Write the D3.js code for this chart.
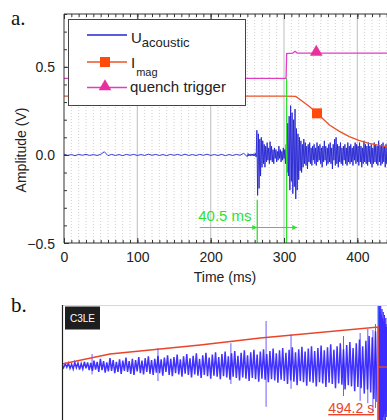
<!DOCTYPE html>
<html>
<head>
<meta charset="utf-8">
<script src="https://cdn.jsdelivr.net/npm/d3@7"></script>
<style>
  body { margin: 0; background: #fff; }
  svg { display: block; }
</style>
</head>
<body>
<svg id="chart" width="387" height="420"></svg>
<script>
// ---------- panel a data ----------
const timeTicks = [0, 100, 200, 300, 400];
const ampTicks = [-0.5, 0.0, 0.5];

// acoustic signal, quiet part (5 ms sampling from 0 ms)
const quietStep = 5;
const quietVals = [
  0.004, -0.003, 0.002, -0.004, 0.003, -0.002, 0.003, -0.003, 0.002, -0.003,
  0.003, 0.018, -0.004, 0.003, -0.003, 0.002, -0.004, 0.003, -0.002, 0.003,
  -0.003, 0.002, -0.003, 0.004, -0.002, 0.003, -0.003, 0.002, -0.004, 0.003,
  -0.002, 0.003, -0.003, 0.004, -0.003, 0.002, -0.003, 0.003, -0.002, 0.004,
  -0.003, 0.002, -0.003, 0.003, -0.004, 0.002, -0.003, 0.003, -0.002, 0.009,
  -0.01
];
// acoustic signal, active part (1 ms sampling from 251 ms)
const burstStart = 251;
const burstStep = 1;
const burstVals = [
  0.008, -0.006, 0.004, -0.005, 0.006, -0.004, 0.005, -0.006, 0.007, -0.005, 0.009, -0.012,
  0.14, -0.23, 0.12, -0.19, 0.09, -0.12, 0.1, -0.07, 0.08, -0.05,
  0.06, -0.07, 0.05, -0.04, 0.07, -0.03, 0.04, -0.05, 0.075, -0.03,
  0.05, -0.04, 0.03, -0.05, 0.04, -0.02, 0.03, -0.04, 0.02, -0.03,
  0.05, -0.02, 0.03, -0.04, 0.02, -0.03, 0.04, -0.02, 0.03, -0.05,
  0.06, -0.1, 0.18, -0.12, 0.22, -0.2, 0.28, -0.15, 0.24, -0.22,
  0.2, -0.18, 0.26, -0.25, 0.15, -0.2, 0.12, -0.14, 0.1, -0.09,
  0.08, -0.1, 0.06, -0.07, 0.09, -0.05, 0.07, -0.06, 0.05, -0.08,
  0.06, -0.04, 0.07, -0.05, 0.04, -0.06, 0.05, -0.03, 0.06, -0.05,
  0.04, -0.06, 0.07, -0.04, 0.05, -0.03, 0.06, -0.05, 0.04, -0.07,
  0.05, -0.04, 0.08, -0.03, 0.05, -0.06, 0.04, -0.05, 0.06, -0.04,
  0.07, -0.05, 0.04, -0.08, 0.06, -0.03, 0.09, -0.06, 0.1, -0.05,
  0.06, -0.07, 0.05, -0.04, 0.07, -0.05, 0.04, -0.06, 0.05, -0.03,
  0.06, -0.05, 0.04, -0.06, 0.07, -0.04, 0.05, -0.05, 0.06, -0.04,
  0.04, -0.06, 0.05, -0.03, 0.07, -0.05, 0.06, -0.04, 0.05, -0.06,
  0.07, -0.04, 0.05, -0.07, 0.04, -0.05, 0.08, -0.04, 0.06, -0.05,
  0.05, -0.06, 0.07, -0.04, 0.05, -0.05, 0.06, -0.07, 0.04, -0.05,
  0.07, -0.04, 0.06, -0.05, 0.05, -0.06, 0.08, -0.04, 0.05, -0.06,
  0.06, -0.05, 0.07, -0.04, 0.05, -0.07, 0.06, -0.05, 0.07, -0.04,
  0.05, -0.06, 0.04
];

// magnet current (scaled) and quench trigger
const magT = [0, 300, 316, 325, 335, 345, 362, 375, 389, 402, 416, 428, 440, 460, 500];
const magV = [0.334, 0.334, 0.332, 0.305, 0.273, 0.236, 0.17, 0.135, 0.104, 0.083, 0.066, 0.055, 0.047, 0.035, 0.02];
const trigT = [0, 302.8, 303.6, 312, 315, 318, 500];
const trigV = [0.434, 0.434, 0.575, 0.578, 0.588, 0.578, 0.578];
const magMarker = [345, 0.236];
const trigMarker = [344, 0.578];

// 40.5 ms delay annotation
const delayT = [263.5, 303.5];
const delayArrowT = [185, 318];
const delayLabel = "40.5 ms";

// ---------- panel b data ----------
const bStep = 2.5; // s
const bVals = [
  0.02, -0.03, 0.04, -0.02, 0.05, -0.04, 0.03, -0.05, 0.06, -0.03, 0.05, -0.06, 0.04, -0.05, 0.07, -0.04, 0.06, -0.07, 0.05, -0.08,
  0.09, -0.06, 0.07, -0.1, 0.12, -0.07, 0.08, -0.11, 0.06, -0.09, 0.13, -0.08, 0.1, -0.12, 0.07, -0.1, 0.11, -0.13, 0.09, -0.08,
  0.14, -0.1, 0.08, -0.13, 0.12, -0.15, 0.1, -0.09, 0.15, -0.12, 0.09, -0.14, 0.13, -0.1, 0.16, -0.13, 0.1, -0.15, 0.12, -0.11,
  0.17, -0.12, 0.11, -0.16, 0.14, -0.1, 0.18, -0.15, 0.12, -0.17, 0.15, -0.12, 0.19, -0.14, 0.11, -0.18, 0.16, -0.13, 0.2, -0.15,
  0.13, -0.19, 0.17, -0.14, 0.21, -0.16, 0.12, -0.2, 0.18, -0.15, 0.22, -0.17, 0.14, -0.21, 0.19, -0.16, 0.23, -0.18, 0.15, -0.22,
  0.2, -0.17, 0.24, -0.19, 0.16, -0.23, 0.21, -0.18, 0.25, -0.2, 0.17, -0.24, 0.22, -0.19, 0.26, -0.21, 0.18, -0.25, 0.23, -0.2,
  0.27, -0.22, 0.19, -0.26, 0.24, -0.21, 0.28, -0.23, 0.2, -0.27, 0.25, -0.22, 0.29, -0.24, 0.21, -0.28, 0.26, -0.23, 0.3, -0.25,
  0.22, -0.3, 0.27, -0.24, 0.31, -0.26, 0.23, -0.32, 0.28, -0.25, 0.32, -0.27, 0.24, -0.33, 0.29, -0.26, 0.33, -0.28, 0.25, -0.34,
  0.3, -0.27, 0.34, -0.29, 0.26, -0.35, 0.31, -0.28, 0.36, -0.3, 0.27, -0.37, 0.33, -0.29, 0.38, -0.31, 0.28, -0.39, 0.35, -0.32,
  0.4, -0.34, 0.3, -0.42, 0.38, -0.35, 0.44, -0.37, 0.33, -0.46, 0.42, -0.39, 0.5, -0.44, 0.48, -0.55, 0.58, -0.6
];
const bSpikeT = [47, 150, 264, 319, 358, 440, 466, 478, 486, 490];
const bSpikeHi = [0.2, 0.3, 0.38, 0.75, 0.53, 0.5, 0.55, 0.62, 0.6, 0.7];
const bSpikeLo = [-0.14, -0.25, -0.3, -0.68, -0.38, -0.5, -0.58, -0.62, -0.75, -0.7];
const bBurstStart = 494.5;
const bBurstStep = 0.5;
const bBurstVals = [
  1.0, -1.1, 1.05, -0.95, 0.9, -1.1, 1.0, -0.9, 0.85, -1.05,
  0.95, -0.9, 0.8, -1.0, 0.9, -0.85, 0.75, -0.95, 0.85, -0.8,
  0.7, -0.9, 0.8, -0.75, 0.65, -0.85, 0.7, -0.8
];
const rampT = [0, 75, 216, 310, 494.2];
const rampV = [0.033, 0.2, 0.35, 0.467, 0.65];
const quenchTimeB = 494.2;
const afterT = [494.2, 510];
const afterV = [-0.017, -0.017];

// ---------- drawing ----------
const svg = d3.select("#chart");
const sans = "'Liberation Sans', Arial, sans-serif";
const serif = "'Liberation Serif', 'Times New Roman', serif";

const blue = "#2424d2";
const orange = "#e8542a";
const pink = "#e23cc4";
const green = "#2fe02f";

// panel a scales
const ax = { left: 64, top: 14, bottom: 243, right: 387 };
const x = d3.scaleLinear().domain([0, 500]).range([ax.left, ax.left + 366.7]);
const y = d3.scaleLinear().domain([-0.5, 0.8]).range([ax.bottom, ax.top]);

const defs = svg.append("defs");
defs.append("clipPath").attr("id", "clipA")
  .append("rect").attr("x", ax.left).attr("y", ax.top)
  .attr("width", ax.right - ax.left).attr("height", ax.bottom - ax.top);
defs.append("marker").attr("id", "arrowG")
  .attr("viewBox", "0 0 10 10").attr("refX", 10).attr("refY", 5)
  .attr("markerWidth", 7).attr("markerHeight", 5).attr("markerUnits", "userSpaceOnUse")
  .attr("orient", "auto")
  .append("path").attr("d", "M0,0 L10,5 L0,10 z").attr("fill", green);

const gA = svg.append("g");
const plotA = gA.append("g").attr("clip-path", "url(#clipA)");

// minor dotted grid every 10 ms, solid at every 100 ms
const minorT = d3.range(10, 500, 10).filter(t => t % 100 !== 0);
plotA.append("g").selectAll("line").data(minorT).join("line")
  .attr("x1", d => x(d)).attr("x2", d => x(d))
  .attr("y1", ax.top).attr("y2", ax.bottom)
  .attr("stroke", "#c4c4c4").attr("stroke-width", 0.8).attr("stroke-dasharray", "1,2");
plotA.append("g").selectAll("line").data(timeTicks.slice(1)).join("line")
  .attr("x1", d => x(d)).attr("x2", d => x(d))
  .attr("y1", ax.top).attr("y2", ax.bottom)
  .attr("stroke", "#c8c8c8").attr("stroke-width", 1.2);

// acoustic signal
const acoustic = quietVals.map((v, i) => [i * quietStep, v])
  .concat(burstVals.map((v, i) => [burstStart + i * burstStep, v]));
const lineA = d3.line().x(d => x(d[0])).y(d => y(d[1]));
plotA.append("path").datum(acoustic)
  .attr("d", lineA).attr("fill", "none")
  .attr("stroke", blue).attr("stroke-width", 1).attr("stroke-opacity", 0.9);

// magnet current and trigger
plotA.append("path").datum(magT.map((t, i) => [t, magV[i]]))
  .attr("d", lineA).attr("fill", "none").attr("stroke", orange).attr("stroke-width", 1.3);
plotA.append("path").datum(trigT.map((t, i) => [t, trigV[i]]))
  .attr("d", lineA).attr("fill", "none").attr("stroke", pink).attr("stroke-width", 1.3);

// green delay annotation
plotA.append("line")
  .attr("x1", x(delayT[0])).attr("x2", x(delayT[0]))
  .attr("y1", y(-0.255)).attr("y2", ax.bottom)
  .attr("stroke", green).attr("stroke-width", 1.3);
plotA.append("line")
  .attr("x1", x(delayT[1])).attr("x2", x(delayT[1]))
  .attr("y1", y(0.434)).attr("y2", ax.bottom)
  .attr("stroke", green).attr("stroke-width", 1.3);
plotA.append("line")
  .attr("x1", x(delayArrowT[0])).attr("x2", x(delayT[0]))
  .attr("y1", y(-0.412)).attr("y2", y(-0.412))
  .attr("stroke", green).attr("stroke-width", 1.2).attr("marker-end", "url(#arrowG)");
plotA.append("line")
  .attr("x1", x(delayT[0])).attr("x2", x(delayArrowT[1]))
  .attr("y1", y(-0.412)).attr("y2", y(-0.412))
  .attr("stroke", green).attr("stroke-width", 1.2).attr("marker-end", "url(#arrowG)");
gA.append("text")
  .attr("x", x(183)).attr("y", 221)
  .attr("font-family", sans).attr("font-size", 15).attr("fill", green)
  .text(delayLabel);

// markers
plotA.append("rect")
  .attr("x", x(magMarker[0]) - 5).attr("y", y(magMarker[1]) - 5)
  .attr("width", 10).attr("height", 10).attr("fill", "#ff4a0a");
const tri = d3.symbol().type(d3.symbolTriangle).size(70);
plotA.append("path").attr("d", tri)
  .attr("transform", `translate(${x(trigMarker[0])},${y(trigMarker[1]) - 1})`)
  .attr("fill", "#e8309e");

// axes frame and ticks
const minorTicksX = d3.range(0, 510, 10);
const minorTicksY = d3.range(-0.5, 0.81, 0.1);
gA.append("g").attr("transform", `translate(0,${ax.bottom})`)
  .call(d3.axisBottom(x).tickValues(minorTicksX).tickSize(-3).tickFormat(""))
  .call(g => g.select(".domain").remove());
gA.append("g").attr("transform", `translate(0,${ax.top})`)
  .call(d3.axisTop(x).tickValues(minorTicksX).tickSize(-3).tickFormat(""))
  .call(g => g.select(".domain").remove());
gA.append("g").attr("transform", `translate(${ax.left},0)`)
  .call(d3.axisLeft(y).tickValues(minorTicksY).tickSize(-3).tickFormat(""))
  .call(g => g.select(".domain").remove());

const xAxis = gA.append("g").attr("transform", `translate(0,${ax.bottom})`)
  .call(d3.axisBottom(x).tickValues(timeTicks).tickSize(-5).tickPadding(9).tickFormat(d3.format("d")));
xAxis.select(".domain").remove();
gA.append("g").attr("transform", `translate(0,${ax.top})`)
  .call(d3.axisTop(x).tickValues(timeTicks).tickSize(-5).tickFormat(""))
  .call(g => g.select(".domain").remove());
const yAxis = gA.append("g").attr("transform", `translate(${ax.left},0)`)
  .call(d3.axisLeft(y).tickValues(ampTicks).tickSize(-5).tickPadding(9).tickFormat(d3.format(".1f")));
yAxis.select(".domain").remove();
gA.selectAll(".tick line").attr("stroke", "#333");
gA.selectAll(".tick text")
  .attr("font-family", sans).attr("font-size", 14).attr("fill", "#222");
yAxis.selectAll(".tick text").attr("dy", "0.36em");

gA.append("line").attr("x1", ax.left).attr("x2", ax.right)
  .attr("y1", ax.bottom).attr("y2", ax.bottom).attr("stroke", "#333");
gA.append("line").attr("x1", ax.left).attr("x2", ax.right)
  .attr("y1", ax.top).attr("y2", ax.top).attr("stroke", "#333");
gA.append("line").attr("x1", ax.left).attr("x2", ax.left)
  .attr("y1", ax.top).attr("y2", ax.bottom).attr("stroke", "#333");

// axis titles
gA.append("text")
  .attr("x", 225).attr("y", 282).attr("text-anchor", "middle")
  .attr("font-family", sans).attr("font-size", 14).attr("fill", "#222")
  .text("Time (ms)");
gA.append("text")
  .attr("transform", "translate(26,150) rotate(-90)").attr("text-anchor", "middle")
  .attr("font-family", sans).attr("font-size", 14).attr("fill", "#222")
  .text("Amplitude (V)");

// legend
const leg = gA.append("g");
leg.append("rect").attr("x", 68.5).attr("y", 19.5).attr("width", 177).attr("height", 86)
  .attr("fill", "#fff").attr("stroke", "#444").attr("stroke-width", 1);
leg.append("line").attr("x1", 87).attr("x2", 127).attr("y1", 35).attr("y2", 35)
  .attr("stroke", blue).attr("stroke-width", 1.3);
const t1 = leg.append("text").attr("x", 131).attr("y", 43)
  .attr("font-family", sans).attr("font-size", 15).attr("fill", "#222");
t1.append("tspan").text("U");
t1.append("tspan").attr("font-size", 13).attr("dy", 4).text("acoustic");

leg.append("line").attr("x1", 87).attr("x2", 127).attr("y1", 62).attr("y2", 62)
  .attr("stroke", orange).attr("stroke-width", 1.3);
leg.append("rect").attr("x", 100).attr("y", 57).attr("width", 10).attr("height", 10)
  .attr("fill", "#ff4a0a");
const t2 = leg.append("text").attr("x", 131).attr("y", 68)
  .attr("font-family", sans).attr("font-size", 15).attr("fill", "#222");
t2.append("tspan").text("I");
t2.append("tspan").attr("font-size", 11).attr("dy", 8).attr("dx", 1).text("mag");

leg.append("line").attr("x1", 87).attr("x2", 127).attr("y1", 87.5).attr("y2", 87.5)
  .attr("stroke", pink).attr("stroke-width", 1.3);
leg.append("path").attr("d", tri).attr("transform", "translate(105,86.5)").attr("fill", "#e8309e");
leg.append("text").attr("x", 130).attr("y", 92)
  .attr("font-family", sans).attr("font-size", 15).attr("fill", "#222")
  .text("quench trigger");

// panel labels
svg.append("text").attr("x", 11).attr("y", 25)
  .attr("font-family", serif).attr("font-size", 21).attr("fill", "#111").text("a.");
svg.append("text").attr("x", 11).attr("y", 312)
  .attr("font-family", serif).attr("font-size", 21).attr("fill", "#111").text("b.");

// ---------- panel b ----------
const bx = { left: 62, top: 305, bottom: 420, right: 387 };
const xb = d3.scaleLinear().domain([0, 508]).range([bx.left, bx.right]);
const yb = d3.scaleLinear().domain([-1, 1]).range([426, 306]);
defs.append("clipPath").attr("id", "clipB")
  .append("rect").attr("x", bx.left).attr("y", bx.top)
  .attr("width", bx.right - bx.left).attr("height", bx.bottom - bx.top);

const gB = svg.append("g");
const plotB = gB.append("g").attr("clip-path", "url(#clipB)");
const lineB = d3.line().x(d => xb(d[0])).y(d => yb(d[1]));

plotB.append("g").selectAll("line").data(bSpikeT).join("line")
  .attr("x1", d => xb(d)).attr("x2", d => xb(d))
  .attr("y1", (d, i) => yb(bSpikeHi[i])).attr("y2", (d, i) => yb(bSpikeLo[i]))
  .attr("stroke", "#6a5cff").attr("stroke-width", 1);
plotB.append("path").datum(bVals.map((v, i) => [i * bStep, v]))
  .attr("d", lineB).attr("fill", "none")
  .attr("stroke", "#2c1cff").attr("stroke-width", 1.5).attr("stroke-opacity", 0.9);
plotB.append("line")
  .attr("x1", xb(bBurstStart)).attr("x2", xb(bBurstStart))
  .attr("y1", bx.top).attr("y2", bx.bottom)
  .attr("stroke", "#5ec8f0").attr("stroke-width", 2.5);
plotB.append("path").datum(bBurstVals.map((v, i) => [bBurstStart + 0.6 + i * bBurstStep, v]))
  .attr("d", lineB).attr("fill", "none")
  .attr("stroke", "#3a2aff").attr("stroke-width", 1).attr("stroke-opacity", 0.85);

const redB = "#e8452a";
plotB.append("path").datum(rampT.map((t, i) => [t, rampV[i]]).concat([[quenchTimeB, -1.2]]))
  .attr("d", lineB).attr("fill", "none").attr("stroke", redB).attr("stroke-width", 1.4);
plotB.append("path").datum(afterT.map((t, i) => [t, afterV[i]]))
  .attr("d", lineB).attr("fill", "none").attr("stroke", redB).attr("stroke-width", 1.4);

gB.append("line").attr("x1", bx.left).attr("x2", bx.right)
  .attr("y1", bx.top + 0.5).attr("y2", bx.top + 0.5).attr("stroke", "#d8d8d8");
gB.append("line").attr("x1", bx.left + 0.5).attr("x2", bx.left + 0.5)
  .attr("y1", bx.top).attr("y2", bx.bottom).attr("stroke", "#222").attr("stroke-width", 1.2);

gB.append("rect").attr("x", 65).attr("y", 306.5).attr("width", 35).attr("height", 23)
  .attr("fill", "#1e1e1e");
gB.append("text").attr("x", 82.5).attr("y", 322).attr("text-anchor", "middle")
  .attr("font-family", sans).attr("font-size", 10).attr("fill", "#fff").text("C3LE");

gB.append("text").attr("x", xb(quenchTimeB) - 4).attr("y", 413).attr("text-anchor", "end")
  .attr("font-family", sans).attr("font-size", 14).attr("fill", redB)
  .attr("text-decoration", "underline")
  .text(`${quenchTimeB} s`);
</script>
</body>
</html>
